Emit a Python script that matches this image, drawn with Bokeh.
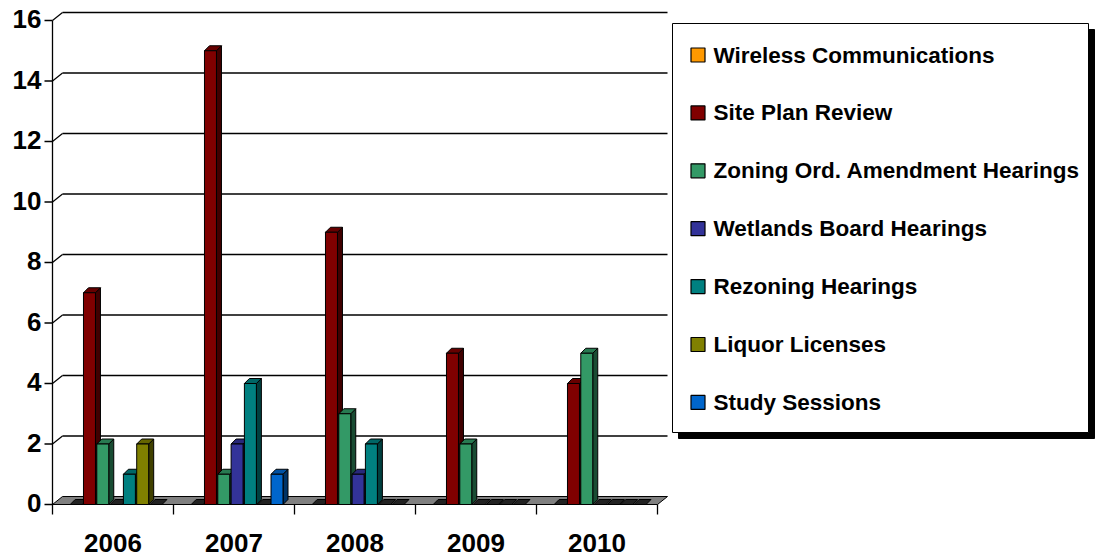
from bokeh.plotting import figure
from bokeh.models import Range1d
from bokeh.core.properties import value
from bokeh.embed import file_html
from bokeh.resources import INLINE

# ---------------- data ----------------
years = ["2006", "2007", "2008", "2009", "2010"]
series_names = ["Wireless Communications", "Site Plan Review",
                "Zoning Ord. Amendment Hearings", "Wetlands Board Hearings",
                "Rezoning Hearings", "Liquor Licenses", "Study Sessions"]
wireless = [0, 0, 0, 0, 0]
site_plan = [7, 15, 9, 5, 4]
zoning = [2, 1, 3, 2, 5]
wetlands = [0, 2, 1, 0, 0]
rezoning = [1, 4, 2, 0, 0]
liquor = [2, 0, 0, 0, 0]
study = [0, 1, 0, 0, 0]
y_ticks = [0, 2, 4, 6, 8, 10, 12, 14, 16]

series_values = [wireless, site_plan, zoning, wetlands, rezoning, liquor, study]
colors = ["#FF9900", "#800000", "#339966", "#333399", "#008080", "#808000", "#0066CC"]

# ---------------- layout (pixel geometry of the page) ----------------
W, H = 1097, 558
AX0 = 52.0        # x of the front y-axis
CAT_PX = 121.0    # pixel width of one category
ZERO_Y = 504.0    # y of value 0 (front plane)
UNIT_PX = 30.25   # pixels per unit
WALL_DX, WALL_DY = 10.0, 8.0   # depth of floor / walls in pixels


def X(px):
    return (px - AX0) / CAT_PX


def Y(py):
    return (ZERO_Y - py) / UNIT_PX


FONT = value("Liberation Sans")


def shade(hexcol, f):
    h = hexcol.lstrip("#")
    r, g, b = (int(h[i:i + 2], 16) for i in (0, 2, 4))
    return "#%02x%02x%02x" % (int(r * f), int(g * f), int(b * f))


p = figure(width=W, height=H, output_backend="svg", toolbar_location=None,
           x_range=Range1d(X(0), X(W)), y_range=Range1d(Y(H), Y(0)),
           x_axis_location=None, y_axis_location=None, min_border=0,
           outline_line_color=None)
p.grid.visible = False
p.background_fill_color = "white"
p.border_fill_color = "white"

ddx = WALL_DX / CAT_PX
ddy = WALL_DY / UNIT_PX
gx0, gx1 = X(AX0), X(AX0 + 5 * CAT_PX)

# floor
p.patch([gx0, gx1, gx1 + ddx, gx0 + ddx], [0, 0, ddy, ddy],
        fill_color="#808080", line_color="black", line_width=1)

# gridlines on back wall + side-wall diagonals
gv = [v for v in y_ticks if v > 0]
p.segment(x0=[gx0 + ddx] * len(gv), y0=[v + ddy for v in gv],
          x1=[gx1 + ddx] * len(gv), y1=[v + ddy for v in gv],
          line_color="black", line_width=1.3)
p.segment(x0=[gx0] * len(gv), y0=gv, x1=[gx0 + ddx] * len(gv), y1=[v + ddy for v in gv],
          line_color="black", line_width=1.3)

# ---------------- bars (3-D look) ----------------
SLOT0, SLOT, BAR_W = 0.146, 0.110, 0.099
BDX, BDY = 5.0 / CAT_PX, 5.0 / UNIT_PX

for s, (vals, col) in enumerate(zip(series_values, colors)):
    xs_side, ys_side, xs_top, ys_top = [], [], [], []
    lefts, rights, tops = [], [], []
    zx, zy = [], []
    for i, v in enumerate(vals):
        x0 = i + SLOT0 + s * SLOT
        x1 = x0 + BAR_W
        if v > 0:
            xs_side.append([x1, x1 + BDX, x1 + BDX, x1])
            ys_side.append([0, BDY, v + BDY, v])
            xs_top.append([x0, x1, x1 + BDX, x0 + BDX])
            ys_top.append([v, v, v + BDY, v + BDY])
            lefts.append(x0); rights.append(x1); tops.append(v)
        else:
            zx.append([x0, x1, x1 + BDX, x0 + BDX])
            zy.append([0, 0, BDY, BDY])
    if zx:
        p.patches(zx, zy, fill_color="#222222", line_color="black", line_width=1)
    if lefts:
        p.patches(xs_side, ys_side, fill_color=shade(col, 0.5), line_color="black", line_width=1)
        p.patches(xs_top, ys_top, fill_color=shade(col, 0.8), line_color="black", line_width=1)
        p.quad(left=lefts, right=rights, bottom=[0] * len(lefts), top=tops,
               fill_color=col, line_color="black", line_width=1)

# ---------------- axes ----------------
p.segment(x0=[gx0], y0=[16], x1=[gx0], y1=[Y(ZERO_Y + 10)], line_color="black", line_width=1.3)
p.segment(x0=[X(AX0 - 8)] * len(y_ticks), y0=y_ticks, x1=[gx0] * len(y_ticks), y1=y_ticks,
          line_color="black", line_width=1.3)
p.text(x=[X(AX0 - 11)] * len(y_ticks), y=[v + 0.04 for v in y_ticks], text=[str(v) for v in y_ticks],
       text_font=FONT, text_font_style="bold", text_font_size="26px",
       text_align="right", text_baseline="middle", text_color="black")

xt = list(range(1, len(years) + 1))
p.segment(x0=xt, y0=[0] * len(xt), x1=xt, y1=[Y(ZERO_Y + 10)] * len(xt),
          line_color="black", line_width=1.3)
p.text(x=[i + 0.5 for i in range(len(years))], y=[Y(542)] * len(years), text=years,
       text_font=FONT, text_font_style="bold", text_font_size="26px",
       text_align="center", text_baseline="middle", text_color="black")

# ---------------- legend ----------------
LB_L, LB_T, LB_R, LB_B = 672, 23, 1088, 432
SH = 6
p.quad(left=[X(LB_L + SH)], right=[X(LB_R + SH)], top=[Y(LB_T + SH)], bottom=[Y(LB_B + SH)],
       fill_color="black", line_color="black")
p.quad(left=[X(LB_L)], right=[X(LB_R)], top=[Y(LB_T)], bottom=[Y(LB_B)],
       fill_color="white", line_color="black", line_width=1)
row_y = [54.5 + k * 57.9 for k in range(len(series_names))]
p.rect(x=[X(697.5)] * len(row_y), y=[Y(r) for r in row_y],
       width=14 / CAT_PX, height=14 / UNIT_PX,
       fill_color=colors, line_color="black", line_width=1.2)
p.text(x=[X(713)] * len(row_y), y=[Y(r) for r in row_y], text=series_names,
       text_font=FONT, text_font_style="bold", text_font_size="22.5px",
       text_align="left", text_baseline="middle", text_color="black")

open("out.html", "w").write(file_html(p, INLINE))
